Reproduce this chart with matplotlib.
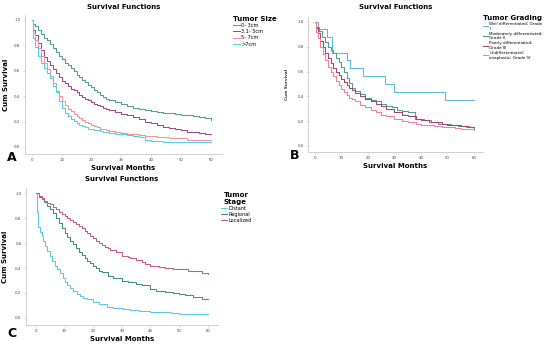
import matplotlib.pyplot as plt

# ---- Panel A: tumor size ----
size_labels = ["0- 3cm", "3.1- 5cm", "5- 7cm", ">7cm"]
size_colors = ["#4f9e8c", "#9c4a82", "#f4919c", "#52cdec"]
size_t = [
    [0, 0.3, 1, 2, 3, 4, 5, 6, 7, 8, 9, 10, 11, 12, 13, 14, 15, 16, 17, 18, 19, 20, 21, 22, 23, 24, 25, 26, 28, 30, 32, 34, 36, 38, 40, 42, 44, 46, 48, 50, 52, 54, 56, 58, 60],
    [0, 0.3, 1, 2, 3, 4, 5, 6, 7, 8, 9, 10, 11, 12, 13, 14, 15, 16, 17, 18, 19, 20, 21, 22, 23, 24, 25, 26, 28, 30, 32, 34, 36, 38, 40, 42, 44, 46, 48, 50, 52, 54, 56, 58, 60],
    [0, 0.3, 1, 2, 3, 4, 5, 6, 7, 8, 9, 10, 11, 12, 13, 14, 15, 16, 17, 18, 19, 20, 21, 22, 23, 24, 25, 26, 28, 30, 32, 34, 36, 38, 40, 42, 44, 46, 48, 50, 52, 54, 56, 58, 60],
    [0, 0.3, 1, 2, 3, 4, 5, 6, 7, 8, 9, 10, 11, 12, 13, 14, 15, 16, 17, 18, 19, 20, 21, 22, 23, 24, 25, 26, 28, 30, 32, 34, 36, 38, 40, 42, 44, 46, 48, 50, 52, 54, 56, 58, 60],
]
size_s = [
    [1.0, 0.97, 0.95, 0.92, 0.89, 0.86, 0.84, 0.81, 0.78, 0.75, 0.72, 0.69, 0.665, 0.645, 0.62, 0.595, 0.57, 0.55, 0.53, 0.51, 0.49, 0.47, 0.45, 0.43, 0.41, 0.395, 0.38, 0.37, 0.355, 0.335, 0.32, 0.31, 0.30, 0.29, 0.285, 0.275, 0.27, 0.265, 0.26, 0.255, 0.25, 0.245, 0.235, 0.225, 0.215],
    [1.0, 0.92, 0.88, 0.82, 0.76, 0.71, 0.68, 0.645, 0.61, 0.58, 0.55, 0.52, 0.50, 0.48, 0.46, 0.45, 0.43, 0.41, 0.395, 0.38, 0.37, 0.355, 0.34, 0.33, 0.32, 0.31, 0.30, 0.29, 0.275, 0.26, 0.25, 0.235, 0.22, 0.20, 0.185, 0.175, 0.16, 0.15, 0.14, 0.13, 0.12, 0.115, 0.11, 0.105, 0.105],
    [1.0, 0.90, 0.84, 0.78, 0.72, 0.66, 0.61, 0.56, 0.50, 0.44, 0.40, 0.36, 0.33, 0.30, 0.28, 0.26, 0.24, 0.225, 0.21, 0.195, 0.185, 0.175, 0.165, 0.155, 0.145, 0.14, 0.135, 0.125, 0.12, 0.11, 0.105, 0.10, 0.095, 0.09, 0.085, 0.08, 0.075, 0.072, 0.07, 0.068, 0.058, 0.058, 0.058, 0.058, 0.058],
    [1.0, 0.86, 0.79, 0.72, 0.66, 0.62, 0.58, 0.54, 0.48, 0.43, 0.36, 0.31, 0.27, 0.245, 0.22, 0.205, 0.19, 0.175, 0.165, 0.155, 0.145, 0.14, 0.135, 0.13, 0.125, 0.12, 0.115, 0.11, 0.105, 0.10, 0.095, 0.085, 0.075, 0.055, 0.05, 0.045, 0.04, 0.04, 0.04, 0.04, 0.04, 0.04, 0.04, 0.04, 0.04],
]

# ---- Panel B: tumor grading ----
grade_labels = ["Well differentiated; Grade\nI", "Moderately differentiated;\nGrade II",
                "Poorly differentiated;\nGrade III", "Undifferentiated;\nanaplastic; Grade IV"]
grade_colors = ["#5db6de", "#4f9e8c", "#a2437e", "#f2808f"]
grade_t = [
    [0, 1.2, 4.4, 6.3, 12.0, 13.2, 18.2, 26.3, 30.0, 49.0, 60],
    [0, 0.5, 1.5, 2.5, 4, 5, 6, 7, 8, 9, 10, 11, 12, 13, 14, 15, 17, 19, 21, 23, 25, 27, 29, 31, 33, 35, 37.6, 39, 41, 44, 46.4, 49, 51.4, 54, 57, 60],
    [0, 0.5, 1, 2, 3, 4, 5, 6, 7, 8, 9, 10, 11, 12, 13, 14, 15, 17, 19, 21, 23, 25, 27, 30, 33, 35, 38, 40, 43, 45, 48, 50, 53, 55, 58, 60],
    [0, 0.5, 1, 2, 3, 4, 5, 6, 7, 8, 9, 10, 11, 12, 13, 14, 15, 17, 19, 21, 23, 25, 27, 30, 33, 35, 38, 40, 43, 45, 48, 50, 53, 55, 58, 60],
]
grade_s = [
    [1.0, 0.94, 0.875, 0.75, 0.69, 0.625, 0.5625, 0.50, 0.4375, 0.37, 0.37],
    [1.0, 0.96, 0.93, 0.88, 0.84, 0.80, 0.77, 0.75, 0.71, 0.68, 0.64, 0.60, 0.55, 0.51, 0.47, 0.44, 0.42, 0.39, 0.37, 0.36, 0.34, 0.32, 0.31, 0.29, 0.28, 0.27, 0.22, 0.215, 0.21, 0.19, 0.18, 0.175, 0.17, 0.16, 0.15, 0.145],
    [1.0, 0.95, 0.91, 0.85, 0.80, 0.75, 0.71, 0.67, 0.63, 0.60, 0.57, 0.54, 0.515, 0.49, 0.47, 0.45, 0.43, 0.40, 0.38, 0.36, 0.34, 0.32, 0.30, 0.27, 0.25, 0.24, 0.22, 0.21, 0.195, 0.19, 0.175, 0.17, 0.165, 0.16, 0.155, 0.15],
    [1.0, 0.92, 0.87, 0.80, 0.74, 0.69, 0.64, 0.60, 0.56, 0.52, 0.49, 0.46, 0.435, 0.41, 0.39, 0.375, 0.36, 0.33, 0.31, 0.29, 0.27, 0.25, 0.24, 0.22, 0.205, 0.19, 0.18, 0.17, 0.165, 0.16, 0.155, 0.15, 0.145, 0.14, 0.135, 0.13],
]

# ---- Panel C: tumor stage ----
stage_labels = ["Distant", "Regional", "Localized"]
stage_colors = ["#5cc6ea", "#418f7d", "#c25c88"]
stage_t = [
    [0, 0.3, 0.9, 1.5, 2, 2.6, 3.2, 4, 5, 5.8, 6.7, 7.5, 8.5, 9.3, 10, 11, 12, 13, 14.3, 15.5, 16.6, 18, 20, 22, 24.7, 27, 30.5, 33, 36, 40, 43, 47, 50, 55, 60],
    [0, 1, 2, 3, 4, 5, 6, 7, 8, 9, 10, 11, 12, 13, 14, 15, 16, 17, 18, 19, 20, 21, 22, 23, 25, 27, 30, 32, 35, 37, 40, 42, 45, 48, 50, 52, 55, 58, 60],
    [0, 1, 2, 3, 4, 5, 6, 7, 8, 9, 10, 11, 12, 13, 14, 15, 16, 17, 18, 19, 20, 21, 22, 23, 24, 25, 26, 28, 30, 32, 33, 35, 37, 38, 40, 43, 45, 48, 50, 53, 55, 58, 60],
]
stage_s = [
    [1.0, 0.85, 0.73, 0.69, 0.66, 0.62, 0.58, 0.54, 0.50, 0.46, 0.42, 0.39, 0.36, 0.32, 0.29, 0.265, 0.24, 0.215, 0.19, 0.175, 0.16, 0.15, 0.13, 0.11, 0.09, 0.08, 0.07, 0.065, 0.055, 0.05, 0.045, 0.04, 0.035, 0.032, 0.03],
    [1.0, 0.97, 0.95, 0.93, 0.90, 0.87, 0.84, 0.80, 0.76, 0.72, 0.68, 0.65, 0.62, 0.59, 0.56, 0.53, 0.505, 0.48, 0.46, 0.44, 0.42, 0.40, 0.38, 0.37, 0.34, 0.32, 0.30, 0.29, 0.27, 0.26, 0.23, 0.215, 0.21, 0.2, 0.19, 0.18, 0.165, 0.155, 0.155],
    [1.0, 0.98, 0.96, 0.94, 0.925, 0.91, 0.89, 0.87, 0.85, 0.835, 0.82, 0.80, 0.785, 0.77, 0.755, 0.74, 0.72, 0.70, 0.68, 0.66, 0.64, 0.62, 0.60, 0.585, 0.57, 0.56, 0.545, 0.525, 0.50, 0.49, 0.48, 0.465, 0.445, 0.43, 0.42, 0.41, 0.40, 0.395, 0.39, 0.38, 0.375, 0.36, 0.355],
]

x_ticks = [0, 10, 20, 30, 40, 50, 60]
y_ticks = [0.0, 0.2, 0.4, 0.6, 0.8, 1.0]


def style_axis(ax, xlim, ylim):
    ax.set_xlim(*xlim)
    ax.set_ylim(*ylim)
    ax.set_xticks(x_ticks)
    ax.set_yticks(y_ticks, labels=[f"{v:.1f}" for v in y_ticks])
    ax.tick_params(labelsize=2.8, length=1.2, width=0.4, color="#bbbbbb", pad=2, labelcolor="#444444")
    for side in ["top", "right"]:
        ax.spines[side].set_visible(False)
    for side in ["left", "bottom"]:
        ax.spines[side].set_color("#c8c8c8")
        ax.spines[side].set_linewidth(0.6)


def draw_curves(ax, times, survs, colors, labels):
    lines = []
    for t, s, c, lab in zip(times, survs, colors, labels):
        ln, = ax.plot(t, s, drawstyle="steps-post", color=c, lw=0.75, label=lab)
        lines.append(ln)
    return lines


fig = plt.figure(figsize=(5.5, 3.46), dpi=100)

# A
axA = fig.add_axes([0.045, 0.555, 0.359, 0.402])
linesA = draw_curves(axA, size_t, size_s, size_colors, size_labels)
style_axis(axA, (-2.3, 63.7), (-0.055, 1.04))
axA.set_title("Survival Functions", fontsize=5, fontweight="bold", pad=4)
axA.set_xlabel("Survival Months", fontsize=5, fontweight="bold", labelpad=2)
axA.set_ylabel("Cum Survival", fontsize=5, fontweight="bold", labelpad=4)
legA = fig.legend(handles=linesA, title="Tumor Size", loc="upper left",
                  bbox_to_anchor=(0.418, 0.965), frameon=False, fontsize=3.6,
                  title_fontproperties={"size": 5, "weight": "bold"},
                  handlelength=1.3, handletextpad=0.3, labelspacing=0.25, borderpad=0.2)
legA._legend_box.align = "left"
fig.text(0.012, 0.545, "A", fontsize=9, fontweight="bold", va="center")

# B
axB = fig.add_axes([0.560, 0.561, 0.318, 0.390])
linesB = draw_curves(axB, grade_t, grade_s, grade_colors, grade_labels)
style_axis(axB, (-2.6, 63.4), (-0.048, 1.04))
axB.set_title("Survival Functions", fontsize=5, fontweight="bold", pad=6)
axB.set_xlabel("Survival Months", fontsize=5, fontweight="bold", labelpad=2)
axB.set_ylabel("Cum Survival", fontsize=3, fontweight="bold", labelpad=6, color="#333333")
legB = fig.legend(handles=linesB, title="Tumor Grading", loc="upper left",
                  bbox_to_anchor=(0.872, 0.965), frameon=False, fontsize=3.0,
                  title_fontproperties={"size": 5.0, "weight": "bold"},
                  handlelength=1.3, handletextpad=0.3, labelspacing=0.25, borderpad=0.2)
fig.text(0.527, 0.55, "B", fontsize=9, fontweight="bold", va="center")

# C
axC = fig.add_axes([0.047, 0.061, 0.349, 0.395])
linesC = draw_curves(axC, stage_t, stage_s, stage_colors, stage_labels)
style_axis(axC, (-3.5, 63.5), (-0.056, 1.04))
axC.set_title("Survival Functions", fontsize=5, fontweight="bold", pad=5)
axC.set_xlabel("Survival Months", fontsize=5, fontweight="bold", labelpad=2)
axC.set_ylabel("Cum Survival", fontsize=5, fontweight="bold", labelpad=5)
legC = fig.legend(handles=linesC, title="Tumor\nStage", loc="upper left",
                  bbox_to_anchor=(0.395, 0.455), frameon=False, fontsize=3.6,
                  title_fontproperties={"size": 5, "weight": "bold"},
                  handlelength=1.3, handletextpad=0.3, labelspacing=0.2, borderpad=0.2)
fig.text(0.014, 0.035, "C", fontsize=9, fontweight="bold", va="center")

fig.savefig("out.png", dpi=100)
